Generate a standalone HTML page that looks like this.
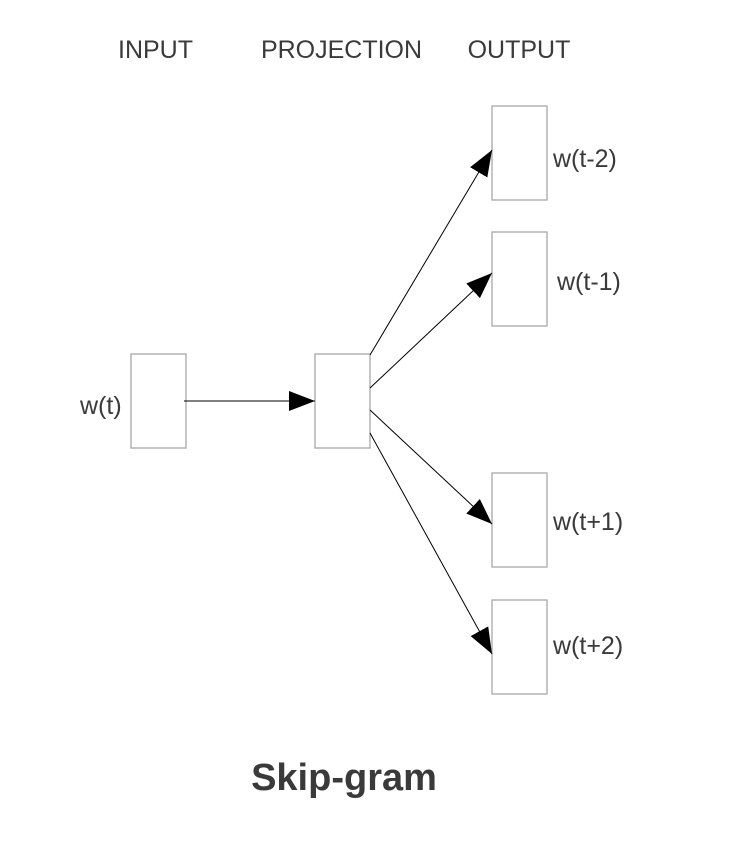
<!DOCTYPE html>
<html><head><meta charset="utf-8"><style>
html,body{margin:0;padding:0;background:#fff}
svg{display:block}
text{font-family:"Liberation Sans",Arial,sans-serif;fill:#3a3a3a}
</style></head><body>
<svg width="740" height="862" viewBox="0 0 740 862" xmlns="http://www.w3.org/2000/svg">
<defs>
<marker id="a" markerUnits="userSpaceOnUse" markerWidth="27" markerHeight="22" refX="26" refY="11" orient="auto">
<path d="M0,1 L26,11 L0,21 Z" fill="#000"/>
</marker>
</defs>
<text x="155.5" y="58" font-size="25" text-anchor="middle">INPUT</text>
<text x="341.5" y="58" font-size="25" text-anchor="middle">PROJECTION</text>
<text x="519" y="58" font-size="25" text-anchor="middle">OUTPUT</text>
<g fill="#fff" stroke="#a8a8a8" stroke-width="1.3">
<rect x="131" y="354" width="55" height="94"/>
<rect x="315" y="354" width="55" height="94"/>
<rect x="492" y="106" width="55" height="94"/>
<rect x="492" y="232" width="55" height="94"/>
<rect x="492" y="473" width="55" height="94"/>
<rect x="492" y="600" width="55" height="94"/>
</g>
<g stroke="#000" stroke-width="1" marker-end="url(#a)">
<line x1="184" y1="401" x2="315" y2="401"/>
<line x1="370" y1="355" x2="492" y2="150"/>
<line x1="370" y1="388" x2="492" y2="273"/>
<line x1="370" y1="410" x2="492" y2="524"/>
<line x1="370" y1="433" x2="492" y2="654"/>
</g>
<text x="80" y="414" font-size="25">w(t)</text>
<text x="553" y="167" font-size="25">w(t-2)</text>
<text x="557" y="290" font-size="25">w(t-1)</text>
<text x="553" y="530" font-size="25">w(t+1)</text>
<text x="553" y="654" font-size="25">w(t+2)</text>
<text x="344" y="790" font-size="38" font-weight="bold" text-anchor="middle">Skip-gram</text>
</svg>
</body></html>
